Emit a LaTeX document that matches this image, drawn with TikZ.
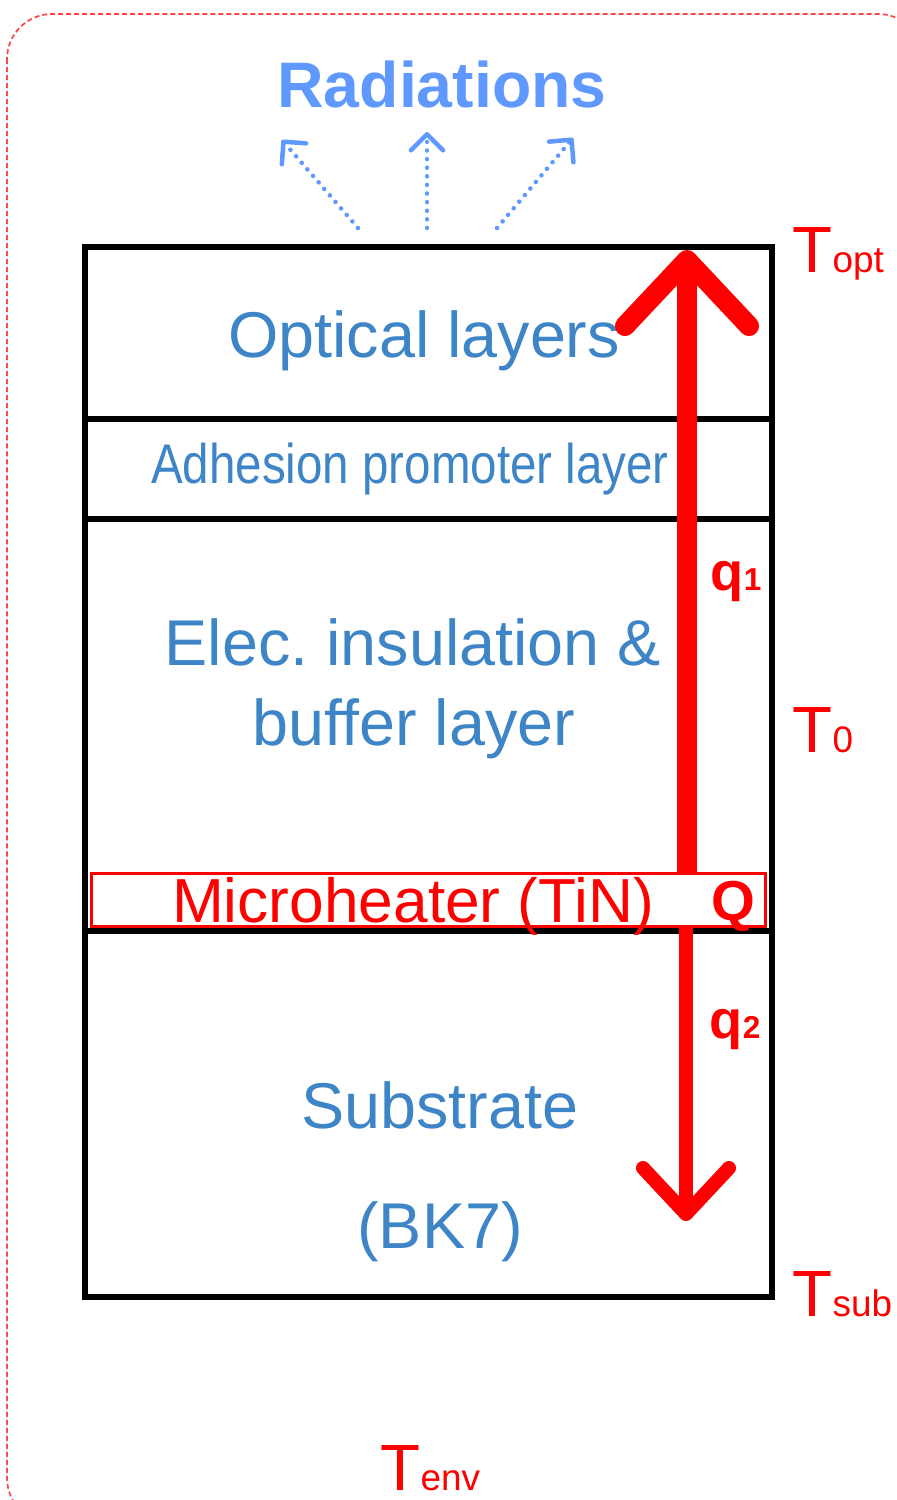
\documentclass[tikz,border=0pt]{standalone}
\usepackage{fontspec}
\setmainfont{Liberation Sans}
\newfontfamily\narrowsans[FakeStretch=0.85]{Liberation Sans}
\usepackage{xcolor}
\usepackage{tikz}
\usetikzlibrary{arrows.meta,calc,positioning}
\definecolor{layerblue}{RGB}{61,133,198}
\definecolor{radblue}{RGB}{95,152,255}
\definecolor{heatred}{RGB}{255,0,0}
\definecolor{envred}{RGB}{255,70,70}
\newcommand{\layerfont}{\fontsize{18.4}{22}\selectfont}
\newcommand{\tempfont}{\fontsize{18.6}{22}\selectfont}
\newcommand{\subfont}{\fontsize{10.5}{12}\selectfont}
\tikzset{
  wall/.style={draw=black, line width=0.065cm},
  heaterbox/.style={draw=heatred, line width=0.03cm, minimum width=6.73cm, minimum height=0.52cm, inner sep=0pt},
  layertext/.style={text=layerblue, font=\layerfont, inner sep=0pt, anchor=base, align=center},
  templabel/.style={text=heatred, font=\tempfont, inner sep=0pt, anchor=base west},
  flowlabel/.style={text=heatred, font=\fontsize{15.4}{16}\selectfont\bfseries, inner sep=0pt, anchor=base west},
  upflow/.style={heatred, line width=0.2cm, -{Straight Barb[length=0.66cm, width=1.24cm, round]}},
  downflow/.style={heatred, line width=0.14cm, -{Straight Barb[length=0.46cm, width=0.86cm, round]}},
  radflow/.style={radblue, line width=0.045cm, dash pattern=on 0.001cm off 0.085cm, line cap=round, -{Straight Barb[length=0.16cm, width=0.32cm, round]}},
  envbox/.style={draw=envred, line width=0.017cm, dash pattern=on 0.05cm off 0.03cm, rounded corners=0.45cm}
}

\begin{document}
\begin{tikzpicture}[x=0.01cm, y=-0.01cm]
  \useasboundingbox (0,0) rectangle (897,1500);
  \begin{scope}
    \clip (0,0) rectangle (897,1500);
    \draw[envbox] (7,14) rectangle (923,1523);
  \end{scope}

  % layer stack
  \draw[wall] (85,247) rectangle (772,1297);
  \foreach \y in {419,519,931} {
    \draw[wall] (85,\y) -- (772,\y);
  }
  \node[heaterbox] (heater) at (428.5,900) {};

  % layer names
  \node[layertext] (optical) at (424,357) {Optical layers};
  \node[layertext, font=\narrowsans\fontsize{15.9}{18}\selectfont] (adhesion) at (410,483) {Adhesion promoter layer};
  \node[layertext] (insul) at (413,665) {Elec.\ insulation \&};
  \node[layertext] (buffer) at (414,745) {buffer layer};
  \node[layertext] (subst) at (440,1128) {Substrate};
  \node[layertext] (bk) at (440,1248) {(BK7)};
  \node[layertext, text=heatred, font=\fontsize{17.7}{20}\selectfont] (heatname) at (413,922) {Microheater (TiN)};
  \node[flowlabel, anchor=base, font=\fontsize{16}{18}\selectfont\bfseries] (heatq) at (733,920) {Q};

  % heat flows
  \coordinate (qtop) at (687,250);
  \coordinate (qbot) at (686,1221);
  \draw[upflow] (heater.north -| qtop) -- (qtop);
  \draw[downflow] (heater.south -| qbot) -- (qbot);
  \node[flowlabel] (q1) at (710,590) {q{\fontsize{9}{10}\selectfont 1}};
  \node[flowlabel] (q2) at (709,1038) {q{\fontsize{9}{10}\selectfont 2}};

  % radiations
  \node[text=radblue, font=\fontsize{18.3}{22}\selectfont\bfseries, inner sep=0pt, anchor=base] (rad) at (442,108) {Radiations};
  \foreach \i/\sx/\ex/\ey in {1/358/282/140, 2/427/427/132, 3/497/573/138} {
    \coordinate (rs\i) at (\sx,228);
    \coordinate (re\i) at (\ex,\ey);
    \draw[radflow] (rs\i) -- (re\i);
  }

  % temperatures
  \node[templabel] (topt) at (792,272) {T{\subfont opt}};
  \node[templabel] (tzero) at (792,752) {T{\subfont 0}};
  \node[templabel] (tsub) at (792,1316) {T{\subfont sub}};
  \node[templabel] (tenv) at (380,1490) {T{\subfont env}};
\end{tikzpicture}
\end{document}
